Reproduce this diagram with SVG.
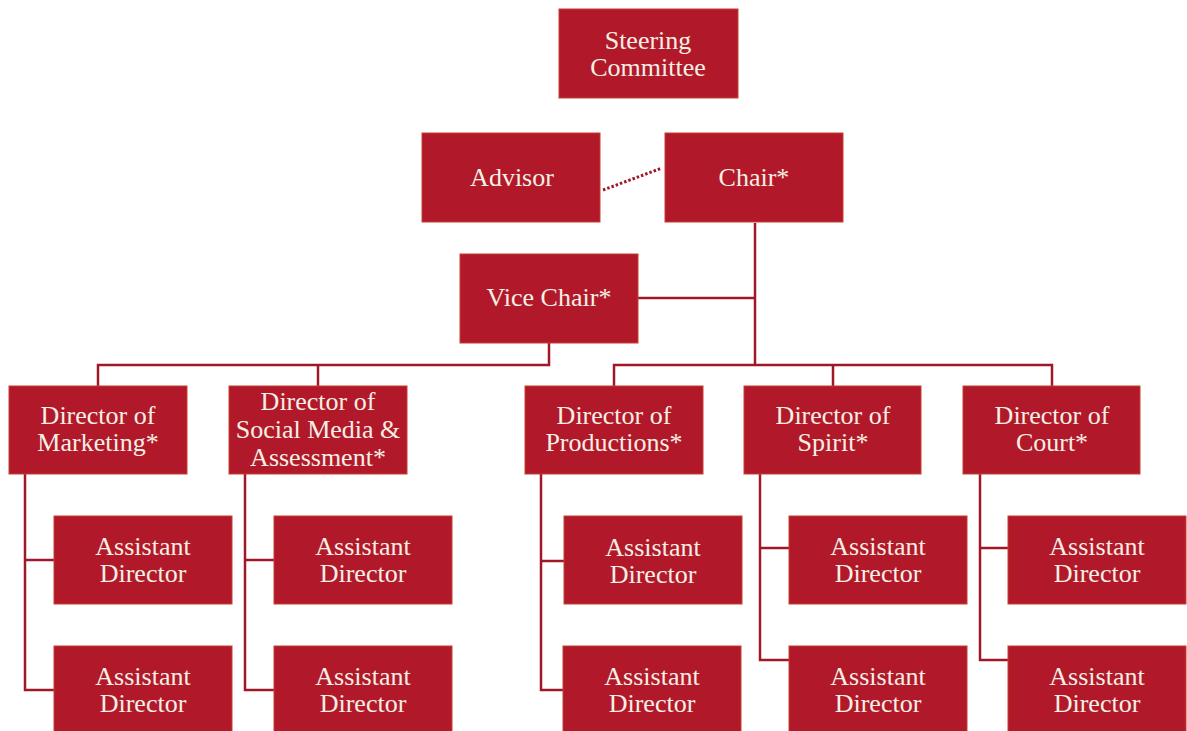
<svg xmlns="http://www.w3.org/2000/svg" width="1187" height="731" viewBox="0 0 1187 731">
<style>
.box{fill:#b1192b;stroke:#c4402e;stroke-width:1}
.t{font-family:"Liberation Serif","Times New Roman",serif;font-size:26px;fill:#f6efe4;text-anchor:middle}
.c{fill:none;stroke:#a01828;stroke-width:2.5}
.d{fill:none;stroke:#a01828;stroke-width:3;stroke-dasharray:2.5 2}
</style>
<rect width="1187" height="731" fill="#ffffff"/>
<g id="connectors">
<path class="d" d="M603 190 L662 168"/>
<path class="c" d="M755 223 V365"/>
<path class="c" d="M638 298 H755"/>
<path class="c" d="M549 343 V365 H98 V386 M318 365 V386"/>
<path class="c" d="M614 386 V365 H1052 V386 M833 365 V386"/>
<path class="c" d="M25 474 V690 H54 M25 560 H54"/>
<path class="c" d="M245 474 V690 H274 M245 560 H274"/>
<path class="c" d="M541 474 V690 H563 M541 561 H564"/>
<path class="c" d="M760 474 V660 H789 M760 548 H789"/>
<path class="c" d="M980 474 V660 H1008 M980 548 H1008"/>
</g>
<g id="steering"><rect class="box" x="559" y="9" width="179" height="89"/><text class="t" x="648" y="49">Steering</text><text class="t" x="648" y="76">Committee</text></g>
<g id="advisor"><rect class="box" x="422" y="133" width="178" height="89"/><text class="t" x="512" y="186">Advisor</text></g>
<g id="chair"><rect class="box" x="665" y="133" width="178" height="89"/><text class="t" x="754" y="186">Chair*</text></g>
<g id="vicechair"><rect class="box" x="460" y="254" width="178" height="89"/><text class="t" x="549" y="306">Vice Chair*</text></g>
<g id="dir-marketing"><rect class="box" x="9" y="386" width="178" height="88"/><text class="t" x="98" y="424">Director of</text><text class="t" x="98" y="451">Marketing*</text></g>
<g id="dir-social"><rect class="box" x="229" y="386" width="178" height="88"/><text class="t" x="318" y="410">Director of</text><text class="t" x="318" y="438">Social Media &amp;</text><text class="t" x="318" y="466">Assessment*</text></g>
<g id="dir-productions"><rect class="box" x="525" y="386" width="178" height="88"/><text class="t" x="614" y="424">Director of</text><text class="t" x="614" y="451">Productions*</text></g>
<g id="dir-spirit"><rect class="box" x="744" y="386" width="177" height="88"/><text class="t" x="833" y="424">Director of</text><text class="t" x="833" y="451">Spirit*</text></g>
<g id="dir-court"><rect class="box" x="963" y="386" width="177" height="88"/><text class="t" x="1052" y="424">Director of</text><text class="t" x="1052" y="451">Court*</text></g>
<g id="ad-marketing-1"><rect class="box" x="54" y="516" width="178" height="88"/><text class="t" x="143" y="555">Assistant</text><text class="t" x="143" y="582">Director</text></g>
<g id="ad-marketing-2"><rect class="box" x="54" y="646" width="178" height="90"/><text class="t" x="143" y="685">Assistant</text><text class="t" x="143" y="712">Director</text></g>
<g id="ad-social-1"><rect class="box" x="274" y="516" width="178" height="88"/><text class="t" x="363" y="555">Assistant</text><text class="t" x="363" y="582">Director</text></g>
<g id="ad-social-2"><rect class="box" x="274" y="646" width="178" height="90"/><text class="t" x="363" y="685">Assistant</text><text class="t" x="363" y="712">Director</text></g>
<g id="ad-productions-1"><rect class="box" x="564" y="516" width="178" height="88"/><text class="t" x="653" y="556">Assistant</text><text class="t" x="653" y="583">Director</text></g>
<g id="ad-productions-2"><rect class="box" x="563" y="646" width="178" height="90"/><text class="t" x="652" y="685">Assistant</text><text class="t" x="652" y="712">Director</text></g>
<g id="ad-spirit-1"><rect class="box" x="789" y="516" width="178" height="88"/><text class="t" x="878" y="555">Assistant</text><text class="t" x="878" y="582">Director</text></g>
<g id="ad-spirit-2"><rect class="box" x="789" y="646" width="178" height="90"/><text class="t" x="878" y="685">Assistant</text><text class="t" x="878" y="712">Director</text></g>
<g id="ad-court-1"><rect class="box" x="1008" y="516" width="178" height="88"/><text class="t" x="1097" y="555">Assistant</text><text class="t" x="1097" y="582">Director</text></g>
<g id="ad-court-2"><rect class="box" x="1008" y="646" width="178" height="90"/><text class="t" x="1097" y="685">Assistant</text><text class="t" x="1097" y="712">Director</text></g>
</svg>
